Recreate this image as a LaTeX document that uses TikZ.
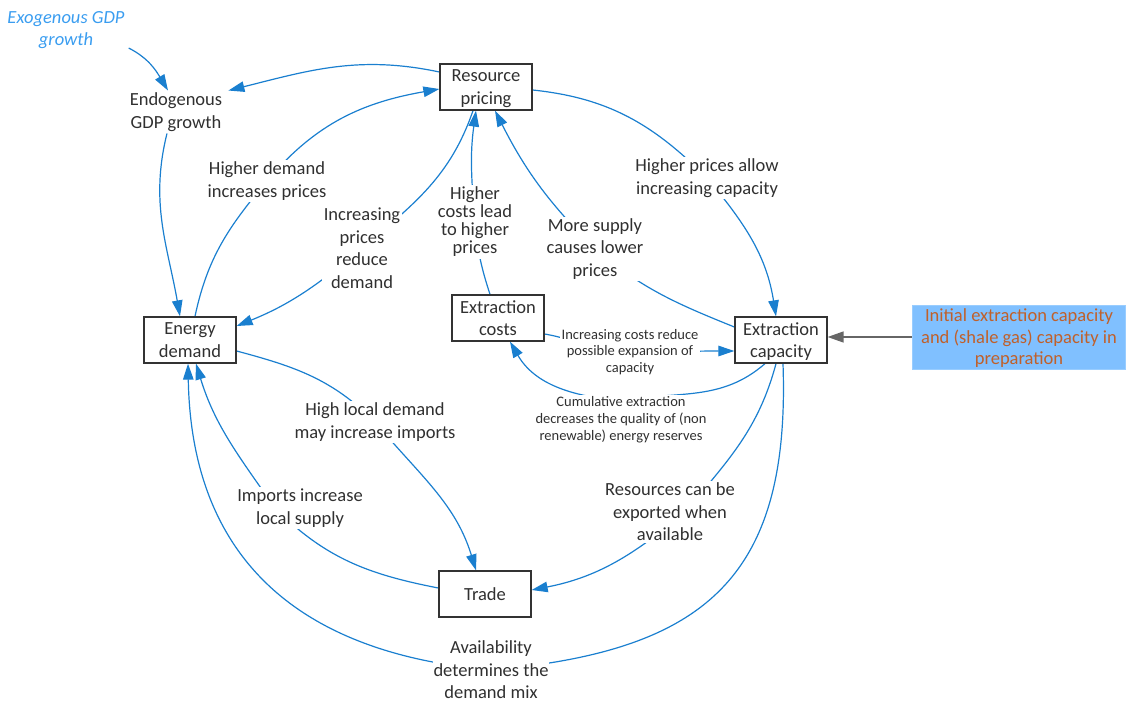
\documentclass[tikz,border=0pt]{standalone}
\usepackage{fontspec}
\setmainfont{Carlito}
\usetikzlibrary{arrows.meta,calc}
\definecolor{lineblue}{HTML}{1A7FCF}
\definecolor{exoblue}{HTML}{3A9DF0}
\definecolor{initfill}{HTML}{80C0FF}
\definecolor{inittext}{HTML}{C0602A}
\definecolor{txt}{HTML}{303030}
\pgfdeclarelayer{bg}
\pgfsetlayers{bg,main}
\tikzset{
  box/.style={draw=black!80, line width=1.3pt, fill=white, minimum width=92pt, minimum height=46pt, inner sep=0pt, text depth=-2pt, align=center, text=txt, font=\fontsize{18.5}{22.5}\selectfont},
  lab/.style={fill=white, inner sep=2pt, align=center, text=txt, font=\fontsize{18.5}{22.5}\selectfont},
  tightlab/.style={lab, font=\fontsize{18.5}{18}\selectfont},
  smalllab/.style={lab, font=\fontsize{14.5}{16.8}\selectfont},
  plain/.style={inner sep=2pt, align=center, text=txt, font=\fontsize{18.5}{22.5}\selectfont},
  exo/.style={inner sep=2pt, align=center, text=exoblue, font=\fontsize{18.5}{22.5}\selectfont\itshape},
  init/.style={fill=initfill, draw=initfill!80!white, minimum width=213pt, minimum height=64pt, inner sep=0pt, text depth=-1pt, align=center, text=inittext, font=\fontsize{18.5}{21.5}\selectfont},
  arr/.style={draw=lineblue, line width=1.2pt, -{Triangle[length=16pt,width=10.5pt]}},
  garr/.style={draw=black!60, line width=1.5pt, -{Triangle[length=16pt,width=11pt]}},
}
\begin{document}
\begin{tikzpicture}[x=1pt,y=1pt]
\useasboundingbox (0,0) rectangle (1136,-704);
% boxes
\node[box] (rp) at (486,-87) {Resource\\pricing};
\node[box] (ed) at (190,-340) {Energy\\demand};
\node[box] (ec) at (498,-318) {Extraction\\costs};
\node[box] (cap) at (781,-340) {Extraction\\capacity};
\node[box] (tr) at (485,-594) {Trade};
\node[init] (ini) at (1019,-337) {Initial extraction capacity\\and (shale gas) capacity in\\preparation};
\node[exo] (exo) at (66,-30) {Exogenous GDP\\growth};
\node[plain] (endo) at (176,-112) {Endogenous\\GDP growth};
% labels
\node[lab] (hd) at (267,-181) {Higher demand\\increases prices};
\node[lab] (ipr) at (362,-248) {Increasing\\prices\\reduce\\demand};
\node[tightlab] (hc) at (475,-222) {Higher\\costs lead\\to higher\\prices};
\node[lab] (ms) at (595,-249) {More supply\\causes lower\\prices};
\node[lab] (hp) at (707,-178) {Higher prices allow\\increasing capacity};
\node[smalllab] (icr) at (630,-352) {Increasing costs reduce\\possible expansion of\\capacity};
\node[smalllab] (cum) at (621,-420) {Cumulative extraction\\decreases the quality of (non\\renewable) energy reserves};
\node[lab] (hl) at (375,-422) {High local demand\\may increase imports};
\node[lab] (ii) at (300,-508) {Imports increase\\local supply};
\node[lab] (rc) at (670,-512) {Resources can be\\exported when\\available};
\node[lab, inner sep=1pt] (av) at (491,-670) {Availability\\determines the\\demand mix};
% connectors
\begin{pgfonlayer}{bg}
\draw[arr] ([xshift=2pt,yshift=3pt]exo.south east) to[out=-27,in=121] ([xshift=-8pt]endo.north);
\draw[arr] ([yshift=15pt]rp.west) to[out=168,in=14] ([xshift=4pt]endo.north east);
\draw[arr] ([xshift=-9pt]endo.south) to[out=256,in=100] ([xshift=-10pt]ed.north);
\draw[arr] ([xshift=5pt]ed.north) to[out=78,in=230] (hd.center) to[out=50,in=190] ([yshift=-2pt]rp.west);
\draw[arr] ([xshift=-13pt]rp.south) to[out=251,in=40] (ipr.center) to[out=220,in=22] ([yshift=14pt]ed.east);
\draw[arr] ([xshift=-8pt]ec.north) to[out=108,in=275] (hc.center) to[out=95,in=262] ([xshift=-10pt]rp.south);
\draw[arr] ([yshift=13pt]cap.west) to[out=158,in=320] (ms.center) to[out=135,in=297] ([xshift=9pt]rp.south);
\draw[arr] ([yshift=-3pt]rp.east) to[out=-6,in=135] (hp.center) to[out=-50,in=99] ([xshift=-5pt]cap.north);
\draw[arr] ([yshift=-16pt]ec.east) to[out=-10,in=180] (icr.center) to[out=0,in=180] ([yshift=-11pt]cap.west);
\draw[arr] ([xshift=-16pt]cap.south) to[out=221,in=10] ([yshift=-6pt]cum.north) to[out=175,in=300] ([xshift=12pt]ec.south);
\draw[arr] ([yshift=-11pt]ed.east) to[out=-15,in=135] (hl.center) to[out=-50,in=107] ([xshift=-9pt]tr.north);
\draw[arr] ([yshift=6pt]tr.west) to[out=169,in=315] ([xshift=-25pt]ii.center) to[out=125,in=287] ([xshift=6pt]ed.south);
\draw[arr] ([xshift=-5pt]cap.south) to[out=255,in=50] ([xshift=15pt]rc.center) to[out=220,in=11] ([yshift=4pt]tr.east);
\draw[arr] ([xshift=2pt]cap.south) to[out=-88,in=5,looseness=1.3] (av.center) to[out=175,in=271,looseness=1.15] ([xshift=-2pt]ed.south);
\draw[garr] (ini.west) -- (ini.west -| cap.east);
\end{pgfonlayer}
\end{tikzpicture}
\end{document}
